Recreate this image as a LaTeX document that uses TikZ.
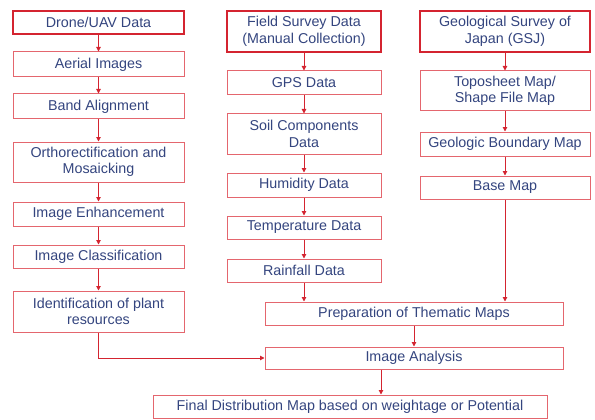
\documentclass[tikz,border=0pt]{standalone}
\usepackage{fontspec}
\setmainfont{Liberation Sans}
\usetikzlibrary{arrows.meta}
\definecolor{FlowRed}{HTML}{D42430}
\definecolor{FlowPink}{HTML}{E4666E}
\definecolor{FlowNavy}{HTML}{34457F}

\tikzset{
  box/.style={draw=FlowPink,line width=1pt,fill=white,text=FlowNavy,align=center,
    inner sep=0pt,font=\fontsize{14.3}{16.5}\selectfont},
  topbox/.style={box,draw=FlowRed,line width=1.8pt},
  arr/.style={draw=FlowRed,line width=1pt,-{Triangle[length=4.5pt,width=4.5pt]}}
}

\begin{document}
\begin{tikzpicture}[x=1pt,y=-1pt]
\path[use as bounding box] (0,0) rectangle (595,420);
% drone column
\node[topbox,minimum width=171,minimum height=23] (drone) at (98.5,22.5) {Drone/UAV Data};
\node[box,minimum width=171,minimum height=25] (aerial) at (98.5,64.5) {Aerial Images};
\node[box,minimum width=171,minimum height=25] (band) at (98.5,106.5) {Band Alignment};
\node[box,minimum width=171,minimum height=40] (ortho) at (98.5,162) {Orthorectification and\\Mosaicking};
\node[box,minimum width=171,minimum height=24] (enhance) at (98.5,214) {Image Enhancement};
\node[box,minimum width=171,minimum height=23] (classify) at (98.5,256.5) {Image Classification};
\node[box,minimum width=171,minimum height=41] (ident) at (98.5,311.5) {Identification of plant\\resources};
% field survey column
\node[topbox,minimum width=154,minimum height=41] (field) at (304,31.5) {Field Survey Data\\(Manual Collection)};
\node[box,minimum width=154,minimum height=24] (gps) at (304,83) {GPS Data};
\node[box,minimum width=154,minimum height=40] (soil) at (304,134) {Soil Components\\Data};
\node[box,minimum width=154,minimum height=24] (humid) at (304,185) {Humidity Data};
\node[box,minimum width=154,minimum height=23] (temp) at (304,227.5) {Temperature Data};
\node[box,minimum width=154,minimum height=23] (rain) at (304,270.5) {Rainfall Data};
% gsj column
\node[topbox,minimum width=170,minimum height=41] (gsj) at (505,31.5) {Geological Survey of\\Japan (GSJ)};
\node[box,minimum width=170,minimum height=40] (topo) at (505,91) {Toposheet Map/\\Shape File Map};
\node[box,minimum width=170,minimum height=24] (geob) at (505,144) {Geologic Boundary Map};
\node[box,minimum width=170,minimum height=23] (base) at (505,187.5) {Base Map};
% merging steps
\node[box,minimum width=298,minimum height=23] (prep) at (414,313.5) {Preparation of Thematic Maps};
\node[box,minimum width=298,minimum height=22] (anal) at (414,358) {Image Analysis};
\node[box,minimum width=394,minimum height=23] (final) at (350,406.5) {Final Distribution Map based on weightage or Potential};
% arrows
\foreach \a/\b in {drone/aerial,aerial/band,band/ortho,ortho/enhance,enhance/classify,classify/ident,
  field/gps,gps/soil,soil/humid,humid/temp,temp/rain,gsj/topo,topo/geob,geob/base}
  \draw[arr] (\a.south) -- (\b.north);
\draw[arr] (rain.south) -- (rain.south |- prep.north);
\draw[arr] (base.south) -- (base.south |- prep.north);
\draw[arr] (prep.south) -- (anal.north);
\draw[arr] (ident.south) |- (anal.west);
\draw[arr] ([xshift=-33pt]anal.south) -- ([xshift=-33pt]anal.south |- final.north);
\end{tikzpicture}
\end{document}
